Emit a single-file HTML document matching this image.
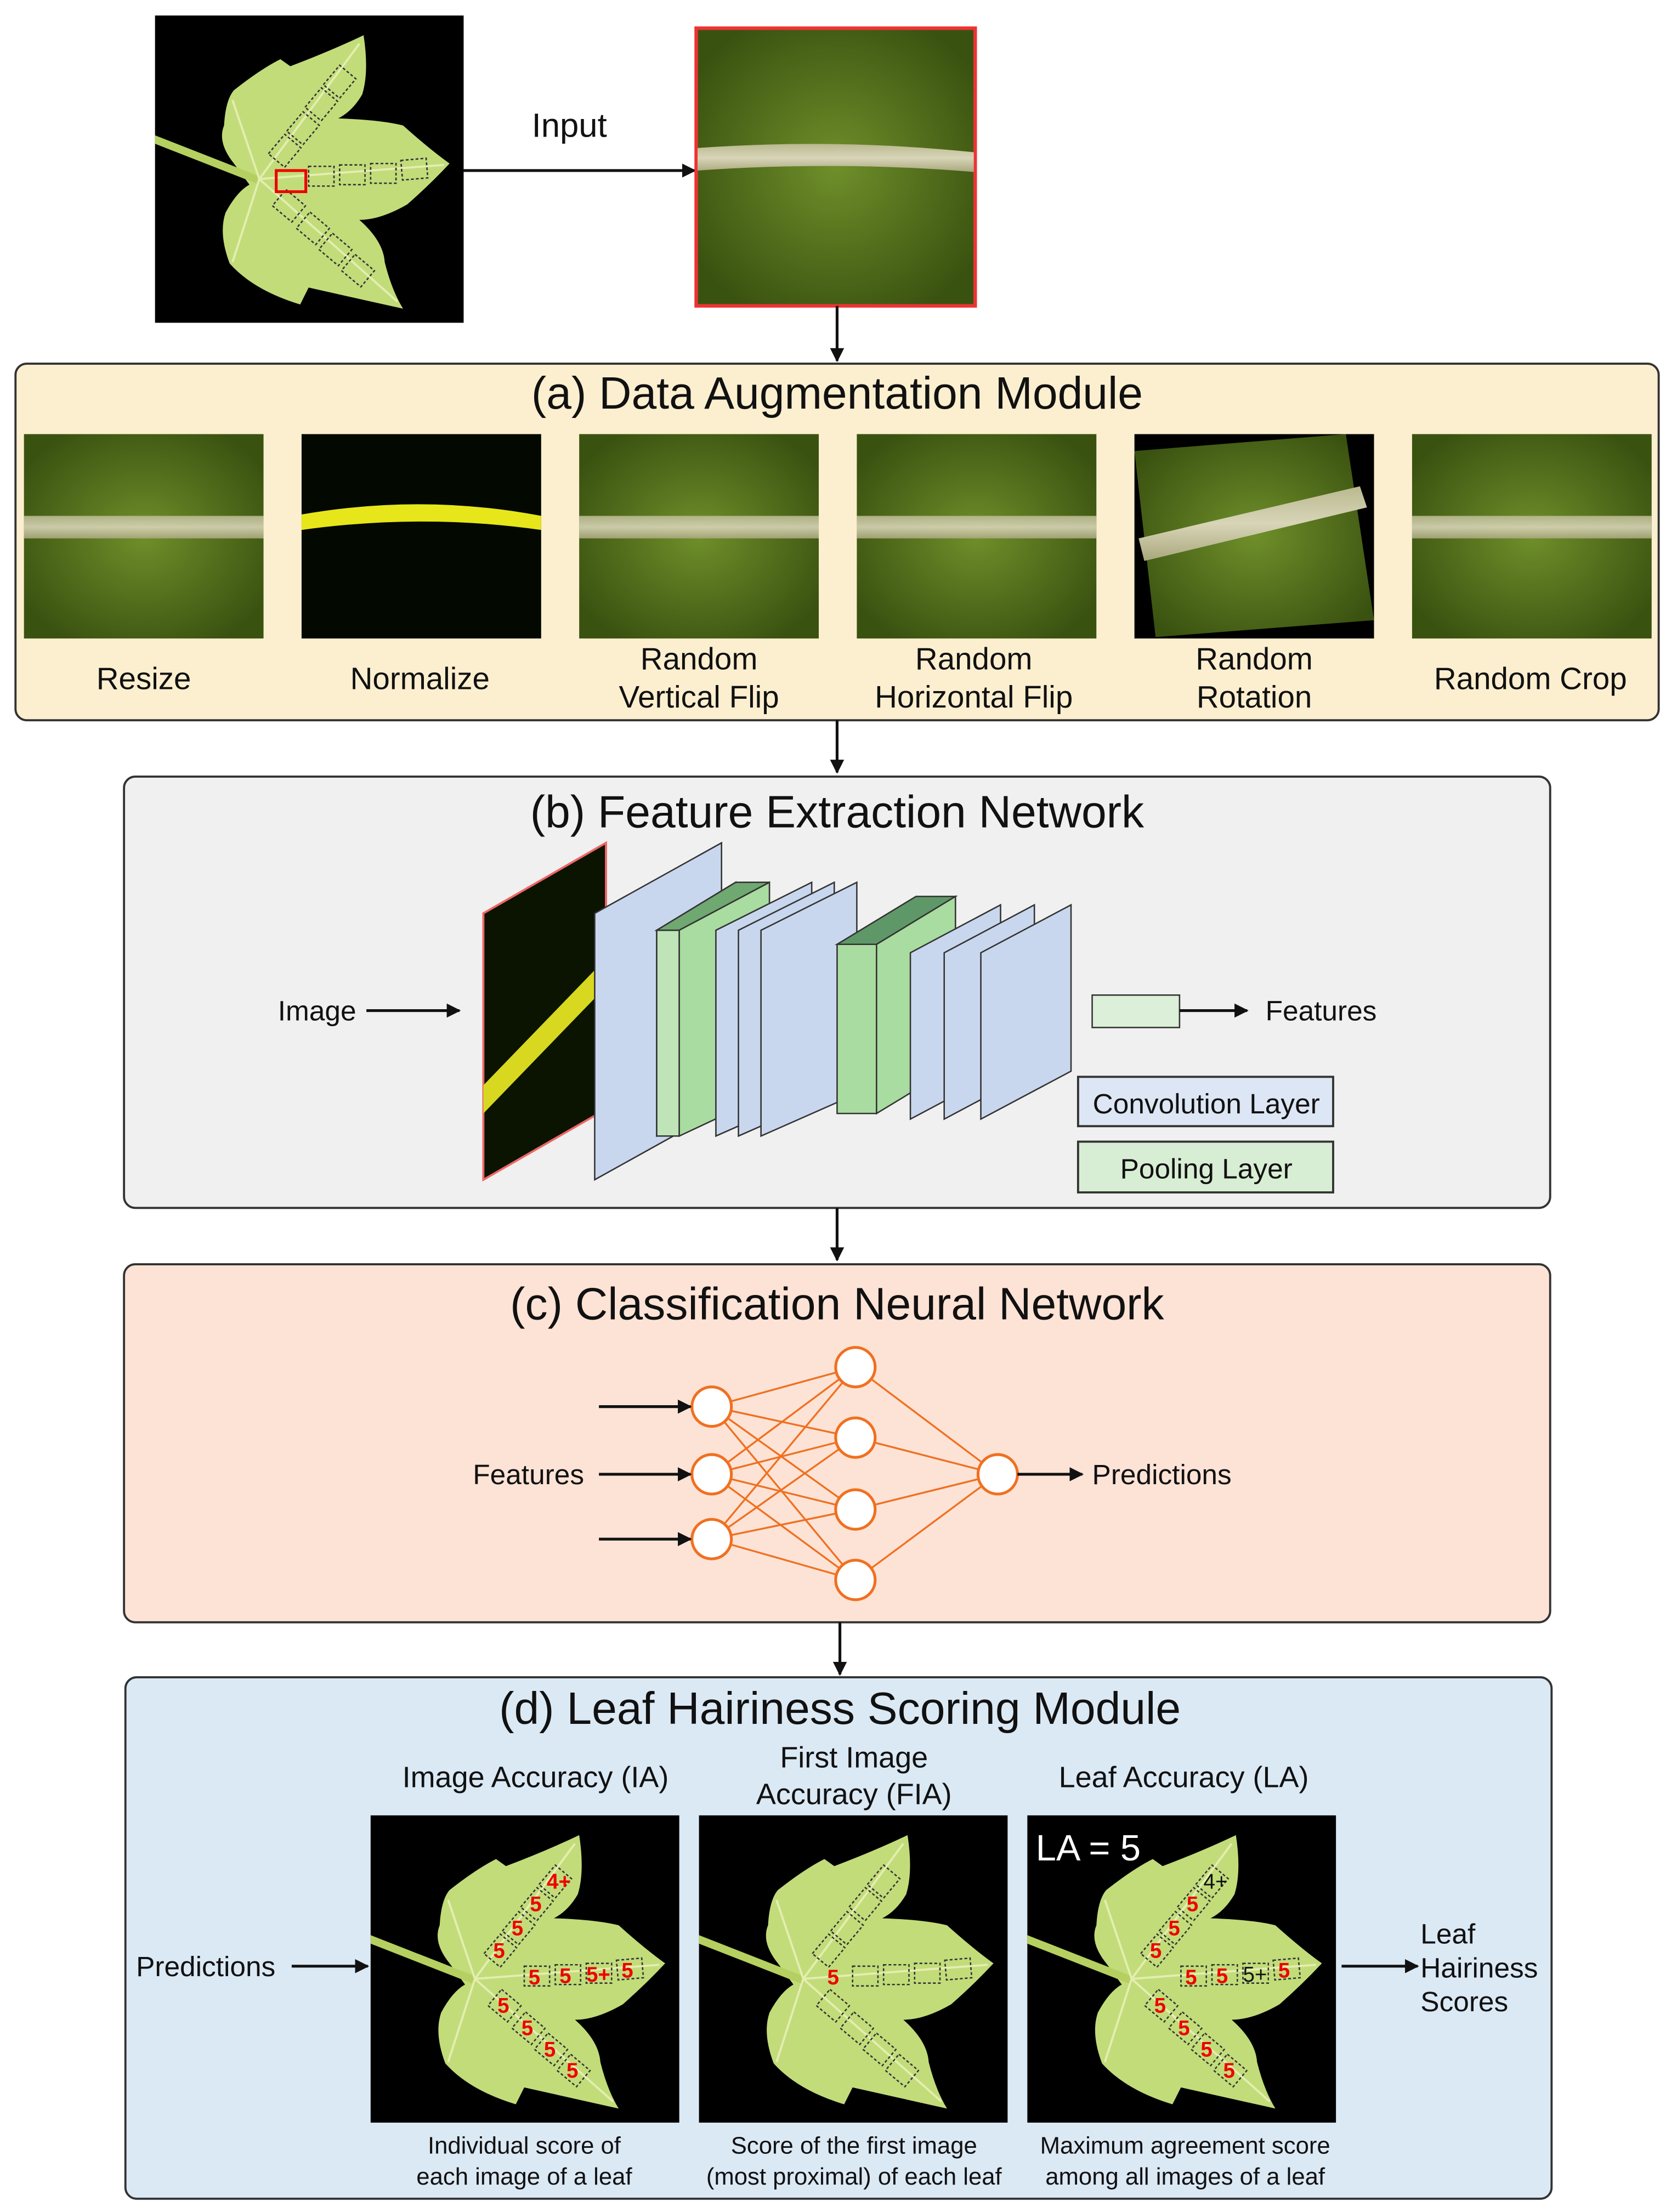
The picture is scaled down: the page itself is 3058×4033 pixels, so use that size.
<!DOCTYPE html>
<html><head><meta charset="utf-8"><style>
html,body{margin:0;padding:0;background:#fff}
svg{display:block}
text{font-family:"Liberation Sans",Arial,sans-serif;fill:#111}
</style></head><body>
<svg width="3058" height="4033" viewBox="0 0 1190 1569.4" xmlns="http://www.w3.org/2000/svg">
<defs>
<marker id="ar" markerWidth="10" markerHeight="10" refX="9" refY="5" orient="auto" markerUnits="userSpaceOnUse"><path d="M0,0 L10,5 L0,10 z" fill="#111"/></marker>
<radialGradient id="gl" cx="50%" cy="50%" r="60%"><stop offset="0" stop-color="#6f8f2a"/><stop offset="1" stop-color="#3a5210"/></radialGradient>
<linearGradient id="vein" x1="0" y1="0" x2="0" y2="1"><stop offset="0" stop-color="#b9b98f"/><stop offset="0.5" stop-color="#d8d5b8"/><stop offset="1" stop-color="#a9a77c"/></linearGradient>
<g id="leaf">
<rect x="0" y="0" width="219" height="218" fill="#000"/>
<path d="M56,105 Q44,90 49,78 Q50,60 56,53 Q75,38 89,31 L96,36 Q125,25 148,14 Q152,40 147,56 Q140,68 130,73 Q160,74 176,78 Q195,95 209,105 Q195,120 179,134 Q160,145 145,145 Q162,160 163,175 Q168,195 176,208 Q140,200 109,193 L103,205 Q70,195 53,176 Q45,155 50,140 Q58,125 67,120 z" fill="#c2dc7a"/>
<path d="M0,85 L74,114 L74,120 L0,91 z" fill="#b5d060"/>
<path d="M74,116 L145,20 M74,116 L205,106 M74,116 L172,203 M74,116 L55,60 M74,116 L55,175" stroke="#e4eeb0" stroke-width="1.5" fill="none"/>
</g>
<g id="boxes" fill="none" stroke="#333" stroke-width="1" stroke-dasharray="2,1.5">
<rect x="-9" y="-7.5" width="18" height="15" transform="translate(92,96) rotate(-50)"/>
<rect x="-9" y="-7.5" width="18" height="15" transform="translate(105,80) rotate(-50)"/>
<rect x="-9" y="-7.5" width="18" height="15" transform="translate(118,63) rotate(-50)"/>
<rect x="-9" y="-7.5" width="18" height="15" transform="translate(131,47) rotate(-50)"/>
<rect x="109" y="107" width="18" height="14"/><rect x="131" y="106" width="18" height="14"/><rect x="153" y="105" width="18" height="14"/><rect x="175" y="102" width="18" height="14" transform="rotate(-5 184 109)"/>
<rect x="-9" y="-7.5" width="18" height="15" transform="translate(95,135) rotate(40)"/>
<rect x="-9" y="-7.5" width="18" height="15" transform="translate(112,151) rotate(40)"/>
<rect x="-9" y="-7.5" width="18" height="15" transform="translate(128,166) rotate(40)"/>
<rect x="-9" y="-7.5" width="18" height="15" transform="translate(144,181) rotate(40)"/>
</g>
<g id="gimg">
<rect width="170" height="145" fill="url(#gl)"/>
<rect y="58" width="170" height="16" fill="url(#vein)" opacity="0.9"/>
</g>
</defs>

<!-- top -->
<use href="#leaf" x="110" y="11"/>
<use href="#boxes" x="110" y="11"/>
<rect x="196" y="121" width="21" height="15" fill="none" stroke="#e00" stroke-width="2"/>
<text x="404" y="97" font-size="24" text-anchor="middle">Input</text>
<line x1="329" y1="121" x2="493" y2="121" stroke="#111" stroke-width="2" marker-end="url(#ar)"/>
<rect x="494" y="20" width="198" height="197" fill="url(#gl)" stroke="#e33" stroke-width="2.5"/>
<path d="M495,105 Q594,98 691,108 L691,122 Q594,114 495,121 z" fill="url(#vein)"/>
<line x1="594" y1="217" x2="594" y2="256" stroke="#111" stroke-width="2" marker-end="url(#ar)"/>

<!-- (a) -->
<rect x="11" y="258" width="1166" height="253" rx="8" fill="#fcefcf" stroke="#333" stroke-width="1.5"/>
<text x="594" y="290" font-size="32" text-anchor="middle">(a) Data Augmentation Module</text>
<use href="#gimg" x="17" y="308"/>
<rect x="214" y="308" width="170" height="145" fill="#030800"/>
<path d="M214,365 Q300,350 384,366 L384,376 Q300,364 214,376 z" fill="#e6e61a"/>
<use href="#gimg" x="411" y="308"/>
<use href="#gimg" x="608" y="308"/>
<rect x="805" y="308" width="170" height="145" fill="#000"/>
<polygon points="805,320 955,308 975,440 820,452" fill="url(#gl)"/>
<polygon points="808,382 965,345 970,360 812,398" fill="url(#vein)"/>
<use href="#gimg" x="1002" y="308"/>
<g font-size="22" text-anchor="middle">
<text x="102" y="489">Resize</text>
<text x="298" y="489">Normalize</text>
<text x="496" y="475">Random</text><text x="496" y="502">Vertical Flip</text>
<text x="691" y="475">Random</text><text x="691" y="502">Horizontal Flip</text>
<text x="890" y="475">Random</text><text x="890" y="502">Rotation</text>
<text x="1086" y="489">Random Crop</text>
</g>
<line x1="594" y1="511" x2="594" y2="548" stroke="#111" stroke-width="2" marker-end="url(#ar)"/>

<!-- (b) -->
<rect x="88" y="551" width="1012" height="306" rx="8" fill="#f0f0f0" stroke="#333" stroke-width="1.5"/>
<text x="594" y="587" font-size="32" text-anchor="middle">(b) Feature Extraction Network</text>
<text x="225" y="724" font-size="20" text-anchor="middle">Image</text>
<line x1="260" y1="717" x2="326" y2="717" stroke="#111" stroke-width="2" marker-end="url(#ar)"/>
<polygon points="343,648 430,598 430,787 343,837" fill="#0a1400" stroke="#e66" stroke-width="1.5"/>
<polygon points="343,770 430,680 430,700 343,790" fill="#d8d820"/>
<g stroke="#333" stroke-width="1">
<polygon points="422,648 512,598 512,787 422,837" fill="#c9d7ee"/>
<polygon points="466,660 522,626 522,776 466,806" fill="#a9dca0"/>
<polygon points="466,660 482,660 482,806 466,806" fill="#bfe4b8"/>
<polygon points="466,660 522,626 546,626 482,660" fill="#6fa870"/>
<polygon points="482,660 546,626 546,776 482,806" fill="#a9dca0"/>
<polygon points="508,660 576,626 576,776 508,806" fill="#c9d7ee"/>
<polygon points="524,660 592,626 592,776 524,806" fill="#c9d7ee"/>
<polygon points="540,660 608,626 608,776 540,806" fill="#c9d7ee"/>
<polygon points="594,670 650,636 678,636 622,670" fill="#5f9868"/>
<polygon points="594,670 622,670 622,790 594,790" fill="#a9dca0"/>
<polygon points="622,670 678,636 678,756 622,790" fill="#a9dca0"/>
<polygon points="646,676 710,642 710,760 646,794" fill="#c9d7ee"/>
<polygon points="670,676 734,642 734,760 670,794" fill="#c9d7ee"/>
<polygon points="696,676 760,642 760,760 696,794" fill="#c9d7ee"/>
</g>
<rect x="775" y="706" width="62" height="23" fill="#dcefd8" stroke="#333"/>
<line x1="837" y1="717" x2="885" y2="717" stroke="#111" stroke-width="2" marker-end="url(#ar)"/>
<text x="898" y="724" font-size="20">Features</text>
<rect x="765" y="764" width="181" height="35" fill="#dde6f4" stroke="#333" stroke-width="1.5"/>
<text x="856" y="790" font-size="20" text-anchor="middle">Convolution Layer</text>
<rect x="765" y="810" width="181" height="36" fill="#d8eed4" stroke="#333" stroke-width="1.5"/>
<text x="856" y="836" font-size="20" text-anchor="middle">Pooling Layer</text>
<line x1="594" y1="857" x2="594" y2="894" stroke="#111" stroke-width="2" marker-end="url(#ar)"/>

<!-- (c) -->
<rect x="88" y="897" width="1012" height="254" rx="8" fill="#fde3d6" stroke="#333" stroke-width="1.5"/>
<text x="594" y="936" font-size="32" text-anchor="middle">(c) Classification Neural Network</text>
<g stroke="#f07020" stroke-width="1.3">
<line x1="505" y1="998" x2="607" y2="970"/><line x1="505" y1="998" x2="607" y2="1020"/><line x1="505" y1="998" x2="607" y2="1071"/><line x1="505" y1="998" x2="607" y2="1121"/>
<line x1="505" y1="1046" x2="607" y2="970"/><line x1="505" y1="1046" x2="607" y2="1020"/><line x1="505" y1="1046" x2="607" y2="1071"/><line x1="505" y1="1046" x2="607" y2="1121"/>
<line x1="505" y1="1092" x2="607" y2="970"/><line x1="505" y1="1092" x2="607" y2="1020"/><line x1="505" y1="1092" x2="607" y2="1071"/><line x1="505" y1="1092" x2="607" y2="1121"/>
<line x1="607" y1="970" x2="708" y2="1046"/><line x1="607" y1="1020" x2="708" y2="1046"/><line x1="607" y1="1071" x2="708" y2="1046"/><line x1="607" y1="1121" x2="708" y2="1046"/>
</g>
<g fill="#fff" stroke="#f07020" stroke-width="2">
<circle cx="505" cy="998" r="14"/><circle cx="505" cy="1046" r="14"/><circle cx="505" cy="1092" r="14"/>
<circle cx="607" cy="970" r="14"/><circle cx="607" cy="1020" r="14"/><circle cx="607" cy="1071" r="14"/><circle cx="607" cy="1121" r="14"/>
<circle cx="708" cy="1046" r="14"/>
</g>
<g stroke="#111" stroke-width="2">
<line x1="425" y1="998" x2="490" y2="998" marker-end="url(#ar)"/>
<line x1="425" y1="1046" x2="490" y2="1046" marker-end="url(#ar)"/>
<line x1="425" y1="1092" x2="490" y2="1092" marker-end="url(#ar)"/>
<line x1="722" y1="1046" x2="768" y2="1046" marker-end="url(#ar)"/>
</g>
<text x="375" y="1053" font-size="20" text-anchor="middle">Features</text>
<text x="775" y="1053" font-size="20">Predictions</text>
<line x1="596" y1="1151" x2="596" y2="1188" stroke="#111" stroke-width="2" marker-end="url(#ar)"/>

<!-- (d) -->
<rect x="89" y="1190" width="1012" height="370" rx="8" fill="#dbe9f5" stroke="#333" stroke-width="1.5"/>
<text x="596" y="1223" font-size="32" text-anchor="middle">(d) Leaf Hairiness Scoring Module</text>
<g font-size="21" text-anchor="middle">
<text x="380" y="1268">Image Accuracy (IA)</text>
<text x="606" y="1254">First Image</text><text x="606" y="1280">Accuracy (FIA)</text>
<text x="840" y="1268">Leaf Accuracy (LA)</text>
</g>
<use href="#leaf" x="263" y="1288"/><use href="#boxes" x="263" y="1288"/>
<use href="#leaf" x="496" y="1288"/><use href="#boxes" x="496" y="1288"/>
<use href="#leaf" x="729" y="1288"/><use href="#boxes" x="729" y="1288"/>
<text x="735" y="1320" font-size="26" style="fill:#fff">LA = 5</text>
<g font-size="15" font-weight="bold">
<g transform="translate(263,1288)">
<text x="112" y="120" style="fill:#e00">5</text><text x="134" y="119" style="fill:#e00">5</text><text x="153" y="118" style="fill:#e00">5+</text><text x="178" y="115" style="fill:#e00">5</text>
<text x="87" y="101" style="fill:#e00">5</text><text x="100" y="85" style="fill:#e00">5</text><text x="113" y="68" style="fill:#e00">5</text><text x="125" y="52" style="fill:#e00">4+</text>
<text x="90" y="140" style="fill:#e00">5</text><text x="107" y="156" style="fill:#e00">5</text><text x="123" y="171" style="fill:#e00">5</text><text x="139" y="186" style="fill:#e00">5</text>
</g>
<text x="587" y="1408" style="fill:#e00">5</text>
<g transform="translate(729,1288)">
<text x="112" y="120" style="fill:#e00">5</text><text x="134" y="119" style="fill:#e00">5</text><text x="153" y="118" font-weight="normal">5+</text><text x="178" y="115" style="fill:#e00">5</text>
<text x="87" y="101" style="fill:#e00">5</text><text x="100" y="85" style="fill:#e00">5</text><text x="113" y="68" style="fill:#e00">5</text><text x="125" y="52" font-weight="normal">4+</text>
<text x="90" y="140" style="fill:#e00">5</text><text x="107" y="156" style="fill:#e00">5</text><text x="123" y="171" style="fill:#e00">5</text><text x="139" y="186" style="fill:#e00">5</text>
</g>
</g>
<text x="146" y="1402" font-size="20" text-anchor="middle">Predictions</text>
<line x1="207" y1="1395" x2="261" y2="1395" stroke="#111" stroke-width="2" marker-end="url(#ar)"/>
<line x1="952" y1="1395" x2="1006" y2="1395" stroke="#111" stroke-width="2" marker-end="url(#ar)"/>
<g font-size="20"><text x="1008" y="1379">Leaf</text><text x="1008" y="1403">Hairiness</text><text x="1008" y="1427">Scores</text></g>
<g font-size="17" text-anchor="middle">
<text x="372" y="1528">Individual score of</text><text x="372" y="1550">each image of a leaf</text>
<text x="606" y="1528">Score of the first image</text><text x="606" y="1550">(most proximal) of each leaf</text>
<text x="841" y="1528">Maximum agreement score</text><text x="841" y="1550">among all images of a leaf</text>
</g>
</svg>
</body></html>
